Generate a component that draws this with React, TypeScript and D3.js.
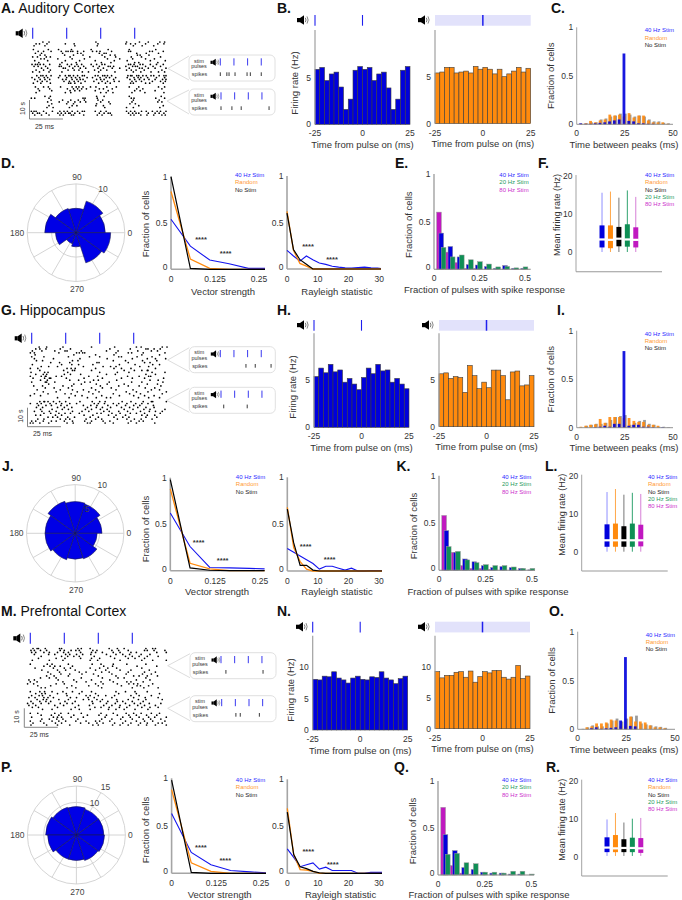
import React from 'react';
import * as d3 from 'd3';

const FONT = '"Liberation Sans", Arial, sans-serif';
const BLUE = '#0000dc';
const ORANGE = '#ff8a0d';
const GREEN = '#0f8f55';
const MAGENTA = '#c018c0';

const pulses = [0, 25, 50, 75];

// raster rows, top to bottom, spike times in ms
const rasterA = [
  [7.5, 12, 46.5, 69, 78.5, 85, 93.5, 97],
  [2.5, 5, 10.5, 24, 30.5, 48, 68.5, 72, 75.5, 83, 92, 96.5],
  [1, 9, 31, 47.5, 74, 80.5, 89],
  [],
  [0.5, 11.5, 19, 28.5, 43, 55.5, 71, 90.5],
  [4, 8, 13.5, 21, 24.5, 26, 28, 29.5, 33, 37.5, 44, 47, 49.5, 58, 70.5, 72, 86, 88, 96],
  [2, 6.5, 22, 33, 35.5, 49, 52.5, 54, 76.5, 83.5, 92.5],
  [5.5, 9, 23.5, 30, 37, 51, 57, 60.5, 77, 79, 85.5],
  [0, 3.5, 10, 13, 27.5, 42, 53, 61, 72.5, 80, 94],
  [6, 8.5, 18.5, 29, 38, 55, 64, 73.5, 83, 89.5],
  [1.5, 11, 24, 34.5, 46, 60, 69.5, 86.5, 97.5],
  [4.5, 21.5, 32, 50.5, 57.5, 75, 78, 92],
  [-0.5, 2, 3.5, 5.5, 8, 12.5, 20, 25.5, 28.5, 32.5, 36, 43, 47, 51, 53, 70.5, 72, 74.5, 79, 81, 86.5, 91, 96],
  [1, 4, 9.5, 19.5, 21, 27, 31, 33.5, 37.5, 44.5, 49, 55.5, 57, 59.5, 68.5, 73.5, 75.5, 77, 83, 88.5, 94],
  [6.5, 11, 22.5, 24, 29.5, 35, 39, 48, 52, 58.5, 64, 71, 78.5, 80.5, 85, 90, 98],
  [2.5, 8, 13, 26, 30.5, 34, 45.5, 50, 54.5, 69, 72.5, 76, 82, 95],
  [0, 5, 12, 21.5, 36.5, 41, 48.5, 60.5, 74, 79.5, 87, 92.5, 97],
  [],
  [3, 6, 7.5, 10, 13.5, 20, 24, 26.5, 27.5, 30, 33, 36.5, 38, 46, 48, 51.5, 53, 55, 58, 70, 72, 73, 76.5, 78, 81, 83.5, 87, 89, 93, 96.5, 98],
  [-0.5, 4.5, 8.5, 11, 19, 25, 28.5, 31.5, 34.5, 40, 44, 49.5, 54, 56.5, 61, 69.5, 74.5, 77.5, 79.5, 84.5, 91, 97],
  [1.5, 5.5, 9, 12.5, 22, 24.5, 29, 32.5, 35, 37, 47, 50, 52.5, 59.5, 71.5, 75, 78.5, 82, 85.5, 90, 95.5, 98],
  [3.5, 7, 10.5, 23, 27, 30.5, 33.5, 38.5, 45, 51, 55, 60, 63.5, 73, 76, 80, 88, 94, 97.5],
  [0.5, 6, 13, 26.5, 28, 31, 35.5, 48.5, 53.5, 57, 72, 74, 83, 86, 96],
  [],
  [2, 8, 11.5, 20.5, 29, 32, 34, 37, 42.5, 46.5, 54.5, 61.5, 71, 78, 92.5, 97],
  [4, 12.5, 25.5, 30, 33, 36, 39.5, 49, 52, 58.5, 76.5, 81, 95],
  [5, 14, 27.5, 31, 34.5, 46, 55.5, 75, 79, 90],
  [2.5, 24, 28, 50, 54, 59, 73, 82.5, 96.5],
  [],
  [9, 13, 47, 52.5, 71, 94.5],
  [-1, 1.5, 12, 37, 38.5, 47.5, 72.5, 74.5, 90.5, 97],
  [13.5, 22, 28, 33.5, 38, 48, 51.5, 74, 93],
  [11, 19.5, 26, 31, 35, 39, 50, 56, 73, 92, 95],
  [14, 25, 30, 47, 57, 71.5, 75.5],
  [12, 29, 32.5, 46.5, 52, 78, 96],
  [10.5, 15, 27, 53, 69, 74, 93.5],
  [],
  [-1, 1, 2.5, 8, 14.5, 20, 23, 25.5, 29, 33, 36.5, 38, 46, 50, 54, 69, 72, 75, 80, 83.5, 88, 91.5, 94, 98],
  [0, 3.5, 5, 10, 18.5, 21, 24, 26.5, 27.5, 31, 34.5, 49, 52.5, 55.5, 57, 70.5, 73.5, 76, 78, 85, 90, 93, 96.5],
  [1.5, 6.5, 12, 20, 22.5, 28.5, 30, 37.5, 47.5, 51, 58, 72, 74.5, 79.5, 84, 89, 95, 97.5],
];

const rasterG = [
  [5.5, 11, 23, 44, 61, 77, 80.5, 96, 99.5],
  [3, 6, 10.5, 21, 28.5, 57.5, 72.5, 84, 85.5, 90, 94.5],
  [0.5, 7.5, 17, 24.5, 26, 36.5, 55, 63.5, 78, 88, 92.5],
  [-1, 2, 20, 33, 35, 37.5, 39, 62, 71, 73.5, 82, 98],
  [2.5, 31, 47, 60.5, 81, 94],
  [0, 9, 27, 42.5, 50, 64, 66, 77.5, 88.5],
  [2, 16, 35.5, 55.5, 74, 85, 91, 98.5],
  [3.5, 8, 30, 34, 60, 69, 81.5, 92],
  [14, 20.5, 28, 48, 49.5, 71, 83, 87],
  [0.5, 22, 29.5, 34.5, 45, 64.5, 76, 89, 94],
  [7, 12.5, 19, 38, 52.5, 58, 62, 79.5, 86],
  [-1, 4.5, 26, 29, 32, 47, 60.5, 66, 73, 91],
  [6, 23.5, 30, 31.5, 44, 68, 75.5, 81, 85, 85.5],
  [-0.5, 9.5, 12, 26.5, 50, 63, 71.5, 88.5, 98],
  [3, 8.5, 11, 24, 28.5, 36, 55, 61.5, 84, 91],
  [-1, 7, 10, 10.5, 18, 22, 42, 48.5, 70.5, 79, 86, 87.5],
  [1, 9.5, 13, 14, 25.5, 38.5, 52, 66, 74, 83, 97],
  [6.5, 11.5, 28, 34.5, 45.5, 49, 62.5, 87, 93],
  [0, 10, 11, 17, 39, 43, 57, 73.5, 81, 96.5],
  [12.5, 31, 36.5, 47.5, 55.5, 68, 85, 92.5],
  [1.5, 8, 23, 29.5, 50.5, 64, 71, 79, 95],
  [10, 16.5, 27, 44, 52, 58.5, 83.5, 90.5],
  [4, 21, 30, 38, 47, 62, 74.5, 88, 94],
  [8.5, 18, 33.5, 42, 49.5, 69.5, 77, 85.5, 99],
  [2, 12, 24.5, 29, 45, 60, 72, 80, 96],
  [-1, 6.5, 32, 37, 51.5, 64.5, 75, 83, 90],
  [19, 27.5, 41, 47.5, 55, 58, 78.5, 86, 94],
  [],
  [6, 9, 9.5, 12, 16, 20.5, 25, 35.5, 44.5, 50, 54, 66.5, 73, 82, 88, 89, 99],
  [-1, 4, 7, 13.5, 18, 22, 28, 33, 46, 49, 53.5, 60, 64, 70, 76.5, 81, 85.5],
  [5, 10.5, 14.5, 21.5, 26, 38, 43.5, 48, 56, 62.5, 69, 75, 79.5, 89.5],
  [3.5, 8, 19, 24, 29.5, 41, 47.5, 52, 58, 66, 72, 78, 84, 90],
  [6.5, 15, 22.5, 27, 39.5, 44, 50.5, 55.5, 68, 74.5, 82.5, 87, 98],
  [2, 7.5, 13, 18, 30, 37, 42, 53, 57, 64, 70.5, 80, 86.5, 91, 96],
  [9, 14, 20, 24.5, 28.5, 35, 48, 51, 59, 65, 72.5, 77, 83, 94.5],
  [3, 6.5, 17.5, 22, 38.5, 45, 56.5, 62, 69, 81, 85, 90.5],
  [12, 15.5, 19, 26.5, 31.5, 43, 49, 60.5, 67, 71.5, 84, 92],
  [4.5, 9, 21, 25, 28, 40, 47, 51.5, 63, 70, 75.5, 80.5, 88.5],
  [0, 3, 8.5, 14.5, 18, 24, 30, 39, 44, 52.5, 57.5, 73, 79, 82],
  [-1, 1, 6, 12.5, 26, 30.5, 41, 43, 54, 60, 71, 77, 90.5],
];

const rasterM = [
  [2, 5, 6, 11, 21.5, 23, 35, 37.5, 44, 58, 64, 69, 85, 90, 92],
  [0.5, 3, 7.5, 12, 22, 25, 30, 33.5, 36, 46, 49, 60, 65, 72, 84, 86, 91, 99],
  [1, 4, 10, 14, 20, 24.5, 28, 37, 45, 48, 53, 61, 66, 74, 78, 93, 100],
  [3, 13.5, 18, 26, 29, 34, 38.5, 44.5, 56, 63, 68, 73, 81.5, 88],
  [8, 23, 27.5, 32, 36, 47, 59, 70, 75, 80, 86, 94],
  [6, 19, 25.5, 37, 45, 51, 62, 72, 77, 84],
  [1.5, 14, 24, 44, 49.5, 66, 82, 90, 100],
  [],
  [0, 12.5, 16, 28, 45.5, 52, 61, 71, 85],
  [10, 14.5, 18, 22, 31, 54, 60.5, 78.5, 93],
  [3.5, 17, 25, 29.5, 44, 51, 57, 63.5, 82],
  [8.5, 20, 26, 33, 48, 55.5, 66, 74, 87.5],
  [13, 21.5, 36, 41, 52.5, 58, 72, 84, 92],
  [15, 22.5, 29, 38, 46.5, 60, 70.5, 82.5, 89],
  [12, 17.5, 28, 50, 63, 76, 80, 86, 93.5],
  [7.5, 14, 19, 37.5, 53, 64.5, 69, 85],
  [-1, 3, 20.5, 32, 45, 58.5, 78, 88],
  [0, 5, 24, 34, 41, 52, 61, 71, 74, 83],
  [-2, 2.5, 19, 25, 48, 53.5, 64, 72.5, 76, 79, 90],
  [5.5, 15, 30.5, 43, 50, 67, 78.5, 81, 87],
  [8, 11, 27, 33.5, 52.5, 75, 83.5, 94],
  [],
  [0, 7, 10.5, 16, 24, 31, 38, 45, 63, 70, 77, 86],
  [4, 8.5, 11, 20, 26.5, 36, 48, 65, 78, 95],
  [1, 6.5, 9, 14.5, 27, 41, 44, 50, 55.5, 62, 74, 80, 89],
  [-1, 3.5, 10, 13, 17, 29.5, 34, 42.5, 47, 60, 76, 84.5, 94],
  [5, 9.5, 12, 21, 28, 39, 43, 49, 53, 63.5, 72, 79.5, 85, 97],
  [0.5, 7, 11.5, 15, 25.5, 33, 45.5, 51.5, 57, 64, 68, 75, 83],
  [-2, 2, 8, 13.5, 22, 27, 31, 46, 56, 62.5, 70, 76.5, 81, 87.5, 96],
  [-1, 4, 18, 24.5, 35.5, 43.5, 54, 60, 66, 73, 79, 84, 92],
  [1.5, 6, 20, 33, 47.5, 52, 58, 65.5, 71, 82, 88, 94],
  [9, 16, 30, 36, 44, 57.5, 63, 69, 77, 86.5],
  [],
  [0, 5.5, 18, 22.5, 28, 37.5, 52, 61, 70.5, 76, 81.5, 89, 95],
  [8, 15.5, 21, 32, 42, 50.5, 56, 64, 72.5, 78, 85.5, 93],
  [1, 17, 20, 23, 30, 39, 55, 68, 73.5, 80, 87, 91.5, 100],
  [8.5, 14, 19.5, 24, 35, 52.5, 60, 66.5, 75, 83, 88.5, 96],
  [0, 7.5, 16, 21, 26, 33.5, 41, 48, 51, 58.5, 70, 78, 84, 90, 99],
  [2, 10, 18.5, 23, 37, 43, 49, 53.5, 62, 68, 74, 81, 86, 94, 97],
  [0.5, 12, 20, 29, 46, 50, 60.5, 66, 72, 79.5, 85.5, 92, 100],
];

const insetA1 = [0, 12, 16, 27, 49, 55, 75];
const insetA2 = [0, 20, 37, 88];
const insetG1 = [47, 64, 93];
const insetG2 = [5, 48];
const insetM1 = [9, 77];
const insetM2 = [26, 34, 69];

// firing rate, 20 bins of 2.5 ms
const psthA = [5.9, 6.1, 4.7, 5.4, 5.6, 4, 1.6, 2.7, 5.8, 6.2, 5.9, 6.1, 4.7, 5.4, 5.6, 3.9, 1.6, 2.7, 5.8, 6.2];
const psthARandom = [5.4, 5.5, 6, 6, 5.4, 5.5, 5.6, 5.4, 6.1, 5.8, 6, 5.8, 5.3, 5.8, 5, 5.3, 5.6, 6, 5.5, 5.9];
const psthG = [5.4, 6.3, 5.8, 6.7, 5.9, 6.1, 4.8, 5.2, 4.6, 4, 5.3, 6.3, 5.7, 6.7, 6, 6.1, 4.8, 5.2, 4.6, 4.1];
const psthGRandom = [5.7, 5.8, 5.2, 5.4, 5.3, 3.7, 6.6, 5.5, 4.1, 4.8, 4.2, 6.1, 6.1, 5.5, 2.9, 5.9, 6, 4.4, 4.5, 5.5];
const psthM = [8.1, 8, 8.6, 8.5, 9.3, 8.3, 8, 7.5, 8.3, 8.6, 8.1, 8, 8.5, 8.4, 9.3, 8.3, 8, 7.4, 8.2, 8.6];
const psthMRandom = [9.2, 8.2, 8.6, 8.6, 9.1, 9.2, 8.3, 9.3, 7.5, 8.4, 9.2, 9, 9.4, 9.4, 8.3, 8, 8.3, 10.2, 8.1, 8.5];

// time between peaks, bins centred on 2.5, 5 ... 50 ms
const peakCenters = [2.5, 5, 7.5, 10, 12.5, 15, 17.5, 20, 22.5, 25, 27.5, 30, 32.5, 35, 37.5, 40, 42.5, 45, 47.5, 50];
const peakABlue = [0.01, 0.005, 0.005, 0.01, 0.015, 0.02, 0.03, 0.04, 0.05, 0.73, 0.035, 0.03, 0.01, 0.01, 0.005, 0.005, 0, 0, 0, 0];
const peakARandom = [0.005, 0.01, 0.035, 0.02, 0.04, 0.05, 0.1, 0.09, 0.1, 0.08, 0.115, 0.07, 0.09, 0.09, 0.04, 0.02, 0.02, 0.02, 0.005, 0];
const peakANone = [0.005, 0.01, 0.02, 0.02, 0.05, 0.06, 0.08, 0.09, 0.11, 0.11, 0.1, 0.08, 0.09, 0.08, 0.05, 0.03, 0.03, 0.015, 0.01, 0];
const peakIBlue = [0, 0, 0, 0.005, 0.01, 0.02, 0.01, 0.04, 0.04, 0.79, 0.02, 0.03, 0.03, 0.01, 0.01, 0.005, 0, 0.005, 0, 0];
const peakIRandom = [0.01, 0.02, 0.03, 0.035, 0.09, 0.05, 0.11, 0.11, 0.11, 0.1, 0.1, 0.07, 0.06, 0.06, 0.03, 0.03, 0.02, 0, 0, 0];
const peakINone = [0, 0.02, 0.03, 0.04, 0.04, 0.05, 0.08, 0.11, 0.12, 0.13, 0.03, 0.05, 0.07, 0.08, 0.04, 0.03, 0.01, 0.01, 0.005, 0];
const peakOBlue = [0, 0, 0.01, 0.02, 0.005, 0.01, 0.015, 0.02, 0.09, 0.74, 0.035, 0.03, 0, 0, 0, 0, 0, 0, 0, 0];
const peakORandom = [0, 0.02, 0.03, 0.06, 0.06, 0.07, 0.1, 0.09, 0.03, 0.03, 0.13, 0.08, 0.08, 0.07, 0.04, 0.02, 0.02, 0.01, 0, 0];
const peakONone = [0.005, 0.02, 0.04, 0.03, 0.03, 0.06, 0.09, 0.11, 0.08, 0.11, 0.13, 0.14, 0.06, 0.05, 0.04, 0.03, 0.025, 0.015, 0, 0];

// rose plots, 10 sectors of 36 deg starting at 0
const roseD = [6, 6.8, 5, 5.2, 6.4, 4.2, 2.4, 2.9, 6.5, 7.1];
const roseJ = [5.5, 6.3, 6.5, 6.9, 6.2, 6.2, 5.7, 5.3, 5.5, 4.5];
const roseP = [8.4, 8.3, 8.7, 8.9, 9.4, 8.8, 7.8, 7.8, 8.2, 8.6];

// vector strength curves
const vectorBins = [0, 0.055, 0.11, 0.165, 0.22, 0.27];
const vectorDBlue = [0.54, 0.25, 0.1, 0.06, 0.01, 0.01];
const vectorDRandom = [0.84, 0.11, 0.01, 0, 0, 0];
const vectorDNone = [1, 0.01, 0, 0, 0, 0];
const vectorJBlue = [0.62, 0.26, 0.035, 0.03, 0.025, 0.02];
const vectorJRandom = [0.88, 0.08, 0.02, 0, 0, 0];
const vectorJNone = [0.98, 0.03, 0.005, 0, 0, 0];
const vectorPBlue = [0.63, 0.22, 0.09, 0.03, 0.015, 0.005];
const vectorPRandom = [0.88, 0.11, 0.02, 0, 0, 0];
const vectorPNone = [0.98, 0.01, 0, 0, 0, 0];

// Rayleigh statistic curves
const rayleighBins = [0, 2.1, 4.2, 6.3, 8.4, 10.5, 12.6, 14.7, 16.8, 18.9, 21, 23.1, 25.2, 27.3, 29.4, 31];
const rayDBlue = [0.2, 0.14, 0.085, 0.14, 0.1, 0.065, 0.05, 0.03, 0.02, 0.012, 0.01, 0.015, 0.02, 0.012, 0.01, 0.005];
const rayDRandom = [0.62, 0.2, 0.06, 0.03, 0, 0, 0, 0, 0, 0, 0, 0, 0, 0, 0, 0];
const rayDNone = [0.6, 0.21, 0.1, 0.05, 0, 0, 0, 0, 0, 0, 0, 0, 0, 0, 0, 0];
const rayJBlue = [0.24, 0.2, 0.16, 0.12, 0.08, 0.02, 0.05, 0.05, 0.03, 0.01, 0.03, 0, 0, 0.005, 0.005, 0.005];
const rayJRandom = [0.68, 0.25, 0.1, 0.02, 0, 0, 0, 0, 0, 0, 0, 0, 0, 0, 0, 0];
const rayJNone = [0.66, 0.3, 0.06, 0.06, 0.01, 0, 0, 0, 0, 0, 0, 0, 0, 0, 0, 0];
const rayPBlue = [0.26, 0.17, 0.07, 0.09, 0.11, 0.045, 0.065, 0.03, 0.03, 0.03, 0.03, 0, 0, 0.01, 0.01, 0.01];
const rayPRandom = [0.69, 0.2, 0.04, 0.035, 0.02, 0, 0, 0, 0, 0, 0, 0, 0, 0, 0, 0];
const rayPNone = [0.65, 0.2, 0.07, 0.05, 0.02, 0.005, 0, 0, 0, 0, 0, 0, 0, 0, 0, 0];

// pulses with spike response, 10 bins of 0.05
const responseBins = [0.04, 0.09, 0.14, 0.19, 0.24, 0.29, 0.34, 0.39, 0.44, 0.49];
const respE80 = [0.6, 0.18, 0.07, 0.01, 0.01, 0, 0, 0, 0, 0];
const respE40 = [0.38, 0.24, 0.13, 0.05, 0.045, 0.03, 0.01, 0.04, 0.01, 0.01];
const respE20 = [0.23, 0.13, 0.15, 0.1, 0.08, 0.055, 0.025, 0.03, 0.015, 0.025];
const respK80 = [0.58, 0.19, 0.05, 0.02, 0.02, 0.01, 0, 0, 0, 0];
const respK40 = [0.42, 0.19, 0.12, 0.09, 0.05, 0.03, 0.04, 0.03, 0.02, 0.005];
const respK20 = [0.25, 0.2, 0.11, 0.08, 0.06, 0.05, 0.05, 0.035, 0.02, 0.02];
const respQ80 = [0.72, 0.1, 0.02, 0.01, 0, 0, 0, 0, 0, 0];
const respQ40 = [0.43, 0.26, 0.08, 0.06, 0.03, 0.02, 0.02, 0.01, 0.01, 0];
const respQ20 = [0.22, 0.23, 0.13, 0.12, 0.03, 0.03, 0.02, 0.04, 0.04, 0.01];

// mean firing rate boxes: hi, q3, median, q1, lo. 40 Hz, Random, No Stim, 20 Hz, 80 Hz
const boxF = [[15.6, 7, 3.3, 1.2, 0], [15.9, 7, 3.2, 1, 0], [14.3, 6.6, 3.5, 1.5, 0], [16.2, 7.3, 3.3, 1.4, 0], [14.5, 6.5, 3.2, 1.2, 0]];
const boxL = [[15.7, 7.2, 3, 1.3, 0], [16.5, 7.4, 3, 1.3, 0], [15, 6.7, 3, 1.3, 0], [15.5, 7.4, 3, 1.3, 0], [15.2, 7.1, 3, 1.4, 0]];
const boxR = [[9.8, 5.1, 2.4, 1.2, 0.2], [11.5, 5.7, 2.2, 1.2, 0.2], [9, 4.6, 2.3, 1.2, 0.2], [10, 5, 2.3, 1.2, 0.2], [10.2, 4.9, 2.2, 1, 0.2]];
const boxColors = [BLUE, ORANGE, '#000', GREEN, MAGENTA];
const whiskerColors = ['#8f8fff', '#ffa84a', '#777', '#2fa36f', '#d77fd7'];

const legendPeak = ['40 Hz Stim', 'Random', 'No Stim'];
const legendPeakColors = ['#2a2aff', '#ff9a33', '#222'];
const legendResp = ['40 Hz Stim', '20 Hz Stim', '80 Hz Stim'];
const legendRespColors = ['#2a2aff', '#1f9a60', '#cc2fcc'];
const legendBox = ['40 Hz Stim', 'Random', 'No Stim', '20 Hz Stim', '80 Hz Stim'];
const legendBoxColors = ['#2a2aff', '#ff9a33', '#222', '#1f9a60', '#cc2fcc'];

const TXT = '#333';
const LABEL_SIZE = 9.5;

const Speaker = ({ x, y, s = 1 }: { x: number; y: number; s?: number }) => (
  <g transform={`translate(${x},${y}) scale(${s})`}>
    <rect x={0} y={3} width={3} height={4.2} fill="#000" />
    <polygon points="3,3 7,0.2 7,9.8 3,7.2" fill="#000" />
    <path d="M8.3,2.8 Q9.7,5 8.3,7.2" stroke="#777" fill="none" strokeWidth={1} />
    <path d="M10,1.4 Q12.3,5 10,8.6" stroke="#888" fill="none" strokeWidth={1} />
  </g>
);

const Label = ({ x, y, t, name }: { x: number; y: number; t: string; name?: string }) => (
  <text x={x} y={y} fontSize={14} fill="#111">
    <tspan fontWeight="bold">{t}</tspan>
    {name ? <tspan> {name}</tspan> : null}
  </text>
);

const Legend = ({ x, y, items, colors }: { x: number; y: number; items: string[]; colors: string[] }) => (
  <g fontSize={6}>
    {items.map((d, i) => (
      <text key={d} x={x} y={y + i * 7.25 + 2} fill={colors[i]}>
        {d}
      </text>
    ))}
  </g>
);

const YLabel = ({ x, y, t, size = LABEL_SIZE }: { x: number; y: number; t: string; size?: number }) => (
  <text transform={`translate(${x},${y}) rotate(-90)`} textAnchor="middle" fontSize={size} fill={TXT}>
    {t}
  </text>
);

const Raster = ({ rows, x0, top, bottom, pulseTop, bar }: any) => {
  const x = d3.scaleLinear().domain([0, 100]).range([x0, x0 + 136]);
  const y = d3.scaleLinear().domain([0, 39]).range([top, bottom]);
  return (
    <g>
      {pulses.map((p) => (
        <line key={p} x1={x(p)} x2={x(p)} y1={pulseTop} y2={pulseTop + 11} stroke="#2222ee" strokeWidth={1.1} />
      ))}
      <Speaker x={x0 - 17} y={pulseTop + 0.5} />
      {rows.map((row: number[], r: number) =>
        row.map((t, i) => <circle key={`${r}-${i}`} cx={x(t)} cy={y(r)} r={0.85} fill="#000" />)
      )}
      <path d={`M${bar.x},${bar.y} V${bar.y + 19} H${bar.x + 33.5}`} fill="none" stroke="#777" strokeWidth={0.9} />
      <text transform={`translate(${bar.x - 5},${bar.y + 8.5}) rotate(-90)`} textAnchor="middle" fontSize={7} fill={TXT}>
        10 s
      </text>
      <text x={bar.x + 15} y={bar.y + 28.5} textAnchor="middle" fontSize={7} fill={TXT}>
        25 ms
      </text>
    </g>
  );
};

const Inset = ({ x, y, apex, x0, spikes }: any) => {
  const sx = d3.scaleLinear().domain([0, 25]).range([x0, x0 + 13.65]);
  return (
    <g>
      <path d={`M${x},${y + 1} L${apex[0]},${apex[1]} L${x},${y + 25}`} fill="none" stroke="#d8d8d8" strokeWidth={0.9} />
      <rect x={x} y={y} width={86} height={26} rx={5} fill="#fff" stroke="#dcdcdc" strokeWidth={0.9} />
      <g fontSize={5.4} fill={TXT} textAnchor="middle">
        <text x={x + 10} y={y + 7.5}>stim</text>
        <text x={x + 10} y={y + 13}>pulses</text>
        <text x={x + 10.5} y={y + 21}>spikes</text>
      </g>
      <Speaker x={x + 21.5} y={y + 3.5} s={0.75} />
      {pulses.map((p) => (
        <line key={p} x1={sx(p)} x2={sx(p)} y1={y + 3.3} y2={y + 10.5} stroke="#2222ee" strokeWidth={0.9} />
      ))}
      {spikes.map((t: number) => (
        <line key={t} x1={sx(t)} x2={sx(t)} y1={y + 17.3} y2={y + 21} stroke="#222" strokeWidth={0.9} />
      ))}
    </g>
  );
};

const psthTicks = [-25, 0, 25];

// one PSTH panel with its stimulus strip above
const Psth = ({ left, right, base, five, top, values, color, yTicks, stripY, band, tick, speakerX }: any) => {
  const x = d3.scaleLinear().domain([-25, 25]).range([left, right]);
  const y = d3.scaleLinear().domain([0, 5]).range([base, five]);
  const step = (right - left) / values.length;
  return (
    <g>
      <Speaker x={speakerX} y={stripY} />
      {band ? <rect x={left} y={stripY} width={right - left} height={10.7} fill="#e2e2fb" /> : null}
      {tick.map((t: number) => (
        <line key={t} x1={x(t)} x2={x(t)} y1={stripY} y2={stripY + 10.7} stroke="#1f1fee" strokeWidth={band ? 1.5 : 1.1} />
      ))}
      {values.map((v: number, i: number) => (
        <rect key={i} x={left + i * step} y={y(v)} width={step} height={base - y(v)} fill={color} stroke="#3d3d3d" strokeWidth={0.6} />
      ))}
      <line x1={left} x2={left} y1={top} y2={base} stroke="#a0a0a0" strokeWidth={1.2} />
      {yTicks.map((t: number) => (
        <text key={t} x={left - 4} y={y(t) + 3} textAnchor="end" fontSize={8.5} fill={TXT}>
          {t}
        </text>
      ))}
      {psthTicks.map((t) => (
        <text key={t} x={x(t)} y={base + 12} textAnchor="middle" fontSize={8.5} fill={TXT}>
          {t}
        </text>
      ))}
      <text x={(left + right) / 2} y={base + 23.5} textAnchor="middle" fontSize={LABEL_SIZE} fill={TXT}>
        Time from pulse on (ms)
      </text>
    </g>
  );
};

const PeakHist = ({ left, right, base, one, blue, random, none }: any) => {
  const x = d3.scaleLinear().domain([0, 50]).range([left, right]);
  const y = d3.scaleLinear().domain([0, 1]).range([base, one]);
  const series = [
    { v: none, c: '#7a7a7a', o: 0.75, dx: 0.4 },
    { v: random, c: ORANGE, o: 0.9, dx: -0.6 },
    { v: blue, c: BLUE, o: 0.9, dx: -0.9 },
  ];
  return (
    <g>
      {series.map((s, j) =>
        s.v.map((d: number, i: number) => (
          <rect key={`${j}-${i}`} x={x(peakCenters[i]) - 1.4 + s.dx} y={y(d)} width={2.8} height={base - y(d)} fill={s.c} opacity={s.o} />
        ))
      )}
      <line x1={left} x2={left} y1={one} y2={base} stroke="#999" strokeWidth={0.9} />
      <line x1={left} x2={right} y1={base} y2={base} stroke="#888" strokeWidth={0.9} />
      {[0, 0.5, 1].map((t) => (
        <text key={t} x={left - 3.5} y={y(t) + 3} textAnchor="end" fontSize={8.5} fill={TXT}>
          {t}
        </text>
      ))}
      {[0, 25, 50].map((t) => (
        <text key={t} x={x(t)} y={base + 12} textAnchor="middle" fontSize={8.5} fill={TXT}>
          {t}
        </text>
      ))}
      <text x={Math.min((left + right) / 2, 624)} y={base + 23.5} textAnchor="middle" fontSize={LABEL_SIZE} fill={TXT}>
        Time between peaks (ms)
      </text>
      <YLabel x={left - 23} y={(base + one) / 2} t="Fraction of cells" />
      <Legend x={left + 68} y={one + 3} items={legendPeak} colors={legendPeakColors} />
    </g>
  );
};

const Rose = ({ cx, cy, R, rMax, rings, values, ringLabels }: any) => {
  const r = d3.scaleLinear().domain([0, rMax]).range([0, R]);
  const arc = d3.arc();
  const spokes = d3.range(0, 360, 30);
  return (
    <g transform={`translate(${cx},${cy})`}>
      {spokes.map((a) => (
        <line key={a} x1={0} y1={0} x2={R * Math.cos((a * Math.PI) / 180)} y2={-R * Math.sin((a * Math.PI) / 180)} stroke="#cfcfcf" strokeWidth={0.9} />
      ))}
      {rings.map((v: number) => (
        <circle key={v} r={r(v)} fill="none" stroke="#cfcfcf" strokeWidth={0.9} />
      ))}
      {values.map((v: number, i: number) => {
        const a0 = ((90 - (i + 1) * 36) * Math.PI) / 180;
        const a1 = ((90 - i * 36) * Math.PI) / 180;
        return (
          <path
            key={i}
            d={arc({ innerRadius: 0, outerRadius: r(v), startAngle: a0, endAngle: a1 }) as string}
            fill="#0000e6"
            stroke="#1a1a50"
            strokeWidth={0.6}
          />
        );
      })}
      <g fontSize={8.5} fill="#444" textAnchor="middle">
        <text x={1} y={-R - 4}>90</text>
        <text x={1} y={R + 11}>270</text>
        <text x={-R - 10} y={3}>180</text>
        <text x={R + 5} y={3}>0</text>
        {ringLabels.map((l: any) => (
          <text key={l[0]} x={l[1]} y={l[2]}>{l[0]}</text>
        ))}
      </g>
    </g>
  );
};

const CurvePanel = ({ left, right, scaleEnd, domainEnd, base, one, bins, blue, random, none, ticks, xlabel, labelX, labelY, stars, yLabel, legend }: any) => {
  const x = d3.scaleLinear().domain([0, domainEnd]).range([left, scaleEnd]);
  const y = d3.scaleLinear().domain([0, 1]).range([base, one]);
  const line = d3
    .line<number>()
    .x((_, i) => Math.min(x(bins[i]), right))
    .y((d) => y(d));
  return (
    <g>
      <line x1={left} x2={left} y1={one} y2={base} stroke="#a5a5a5" strokeWidth={1.6} />
      <line x1={left} x2={right} y1={base} y2={base} stroke="#a5a5a5" strokeWidth={1.6} />
      <path d={line(blue) as string} fill="none" stroke="#1414ee" strokeWidth={1.1} />
      <path d={line(random) as string} fill="none" stroke={ORANGE} strokeWidth={1.3} />
      <path d={line(none) as string} fill="none" stroke="#000" strokeWidth={1.2} />
      {[0, 0.5, 1].map((t) => (
        <text key={t} x={left - 3.5} y={y(t) + (t === 0 ? 1 : 3)} textAnchor="end" fontSize={8.5} fill={TXT}>
          {t}
        </text>
      ))}
      {ticks.map((t: number) => (
        <text key={t} x={x(t)} y={base + 13} textAnchor="middle" fontSize={8.5} fill={TXT}>
          {t}
        </text>
      ))}
      <text x={labelX} y={labelY} textAnchor="middle" fontSize={LABEL_SIZE} fill={TXT}>
        {xlabel}
      </text>
      {stars.map((s: number[], i: number) => (
        <text key={i} x={s[0]} y={s[1] + 3} textAnchor="middle" fontSize={7.5} fontWeight="bold" fill="#333">
          ****
        </text>
      ))}
      {yLabel ? <YLabel x={yLabel[0]} y={yLabel[1]} t="Fraction of cells" /> : null}
      {legend ? <Legend x={legend[0]} y={legend[1]} items={legendPeak} colors={legendPeakColors} /> : null}
    </g>
  );
};

const ResponseHist = ({ left, x50, right, base, one, v80, v40, v20, labelX, labelY, yLabelX, legend }: any) => {
  const x = d3.scaleLinear().domain([0, 0.5]).range([left, x50]);
  const y = d3.scaleLinear().domain([0, 1]).range([base, one]);
  const series = [
    { v: v80, c: MAGENTA, dx: -2.3 },
    { v: v40, c: BLUE, dx: 0 },
    { v: v20, c: GREEN, dx: 2.3 },
  ];
  return (
    <g>
      {series.map((s, j) =>
        s.v.map((d: number, i: number) =>
          d > 0 ? (
            <rect key={`${j}-${i}`} x={x(responseBins[i]) - 2.35 + s.dx} y={y(d)} width={4.7} height={base - y(d)} fill={s.c} stroke="#999" strokeWidth={0.5} />
          ) : null
        )
      )}
      <line x1={left} x2={left} y1={one} y2={base} stroke="#888" strokeWidth={1.1} />
      <line x1={left} x2={right} y1={base} y2={base} stroke="#888" strokeWidth={1.1} />
      {[0, 0.5, 1].map((t) => (
        <text key={t} x={left - 3.5} y={y(t) + (t === 0 ? 1 : 3)} textAnchor="end" fontSize={8.5} fill={TXT}>
          {t}
        </text>
      ))}
      {[0, 0.25, 0.5].map((t) => (
        <text key={t} x={x(t)} y={base + 12} textAnchor="middle" fontSize={8.5} fill={TXT}>
          {t}
        </text>
      ))}
      <text x={labelX} y={labelY} textAnchor="middle" fontSize={LABEL_SIZE} fill={TXT}>
        Fraction of pulses with spike response
      </text>
      <YLabel x={yLabelX} y={(base + one) / 2 + 3} t="Fraction of cells" />
      <Legend x={legend[0]} y={legend[1]} items={legendResp} colors={legendRespColors} />
    </g>
  );
};

const BoxPanel = ({ left, y20, y0, bottom, x0, data, yLabelX, legend }: any) => {
  const y = d3.scaleLinear().domain([0, 20]).range([y0, y20]);
  const x = d3.scaleBand<number>().domain([0, 1, 2, 3, 4]).range([x0 - 4.2, x0 + 4.2 + 8.45 * 4]);
  return (
    <g>
      <line x1={left} x2={left} y1={y20 - 1} y2={bottom} stroke="#999" strokeWidth={0.9} />
      <line x1={left} x2={left + 86} y1={bottom} y2={bottom} stroke="#999" strokeWidth={1.1} />
      {[0, 10, 20].map((t) => (
        <text key={t} x={left - 3.5} y={y(t) + 3} textAnchor="end" fontSize={8.5} fill={TXT}>
          {t}
        </text>
      ))}
      {data.map((d: number[], i: number) => {
        const cx = (x(i) as number) + x.bandwidth() / 2;
        return (
          <g key={i}>
            <line x1={cx} x2={cx} y1={y(d[0])} y2={y(d[4])} stroke={whiskerColors[i]} strokeWidth={1} />
            <rect x={cx - 2.5} y={y(d[1])} width={5} height={y(d[3]) - y(d[1])} fill={boxColors[i]} />
            <rect x={cx - 3} y={y(d[2]) - 1.1} width={6} height={2.2} fill="#fff" />
          </g>
        );
      })}
      <YLabel x={yLabelX} y={y(10) + 1} t="Mean firing rate (Hz)" size={9} />
      <Legend x={legend[0]} y={legend[1]} items={legendBox} colors={legendBoxColors} />
    </g>
  );
};

const App = () => (
  <svg
    width={682}
    height={900}
    viewBox="0 0 682 900"
    style={{ position: 'absolute', left: 0, top: 0, fontFamily: FONT, background: '#fff' }}
  >
    {/* first block */}
    <Label x={1} y={12.7} t="A." name="Auditory Cortex" />
    <Raster rows={rasterA} x0={32.7} top={42} bottom={115} pulseTop={27.7} bar={{ x: 29.5, y: 100 }} />
    <Inset x={189} y={55} apex={[168, 68.5]} x0={220.3} spikes={insetA1} />
    <Inset x={189} y={89} apex={[167, 101]} x0={221} spikes={insetA2} />
    <Label x={277} y={12.7} t="B." />
    <Psth left={315} right={410} base={124.3} five={77.7} top={30} values={psthA} color={BLUE} yTicks={[0, 5]} stripY={15} tick={[-25, 0]} speakerX={297} />
    <YLabel x={298} y={83} t="Firing rate (Hz)" />
    <Psth left={435} right={530.7} base={123.5} five={76.7} top={30} values={psthARandom} color={ORANGE} yTicks={[0, 5]} stripY={15} band tick={[0]} speakerX={418} />
    <Label x={551} y={12.7} t="C." />
    <PeakHist left={576.7} right={673} base={124.3} one={27.3} blue={peakABlue} random={peakARandom} none={peakANone} />

    <Label x={1} y={168} t="D." />
    <Rose cx={76} cy={232.7} R={48.8} rMax={10} rings={[5, 10]} values={roseD} ringLabels={[['10', 27, -41]]} />
    <CurvePanel left={171} right={265} scaleEnd={259} domainEnd={0.25} base={269.3} one={176.7} bins={vectorBins} blue={vectorDBlue} random={vectorDRandom} none={vectorDNone} ticks={[0, 0.125, 0.25]} xlabel="Vector strength" labelX={223} labelY={295} stars={[[201, 239], [225.7, 252.7]]} yLabel={[149, 224]} legend={[235, 175]} />
    <CurvePanel left={287} right={381} scaleEnd={379.3} domainEnd={30} base={269} one={176} bins={rayleighBins} blue={rayDBlue} random={rayDRandom} none={rayDNone} ticks={[0, 10, 20, 30]} xlabel="Rayleigh statistic" labelX={337} labelY={295} stars={[[308, 246], [332, 259.3]]} />
    <Label x={395} y={168} t="E." />
    <ResponseHist left={434} x50={525} right={530.7} base={269.3} one={174} v80={respE80} v40={respE40} v20={respE20} labelX={484.5} labelY={293} yLabelX={412} legend={[499.3, 175]} />
    <Label x={538} y={168} t="F." />
    <BoxPanel left={576} y20={176} y0={252} bottom={271.7} x0={602} data={boxF} yLabelX={560} legend={[645, 175]} />

    {/* second block */}
    <Label x={1} y={315} t="G." name="Hippocampus" />
    <Raster rows={rasterG} x0={31.7} top={347} bottom={423} pulseTop={332.7} bar={{ x: 27.5, y: 407.7 }} />
    <Inset x={189.3} y={346.7} apex={[167.7, 360]} x0={220.3} spikes={insetG1} />
    <Inset x={189.3} y={387.3} apex={[166.7, 400.3]} x0={221} spikes={insetG2} />
    <Label x={277} y={315} t="H." />
    <Psth left={314} right={409} base={427.3} five={380.3} top={333.3} values={psthG} color={BLUE} yTicks={[0, 5]} stripY={320} tick={[-25, 0]} speakerX={297} />
    <YLabel x={296} y={387} t="Firing rate (Hz)" />
    <Psth left={439} right={534} base={426.7} five={380.3} top={333.3} values={psthGRandom} color={ORANGE} yTicks={[0, 5]} stripY={320} band tick={[0]} speakerX={422} />
    <Label x={557} y={315} t="I." />
    <PeakHist left={576.7} right={673} base={427.7} one={330.7} blue={peakIBlue} random={peakIRandom} none={peakINone} />

    <Label x={2} y={471} t="J." />
    <Rose cx={75.2} cy={533.3} R={48.7} rMax={10} rings={[5, 10]} values={roseJ} ringLabels={[['10', 27, -45], ['5', 12, -21]]} />
    <CurvePanel left={170.3} right={264.6} scaleEnd={260} domainEnd={0.25} base={570.7} one={477.7} bins={vectorBins} blue={vectorJBlue} random={vectorJRandom} none={vectorJNone} ticks={[0, 0.125, 0.25]} xlabel="Vector strength" labelX={217} labelY={595} stars={[[198.7, 542.3], [222.7, 560]]} yLabel={[149, 529]} legend={[235.8, 477]} />
    <CurvePanel left={287.3} right={382} scaleEnd={379} domainEnd={30} base={571} one={477.3} bins={rayleighBins} blue={rayJBlue} random={rayJRandom} none={rayJNone} ticks={[0, 10, 20, 30]} xlabel="Rayleigh statistic" labelX={337} labelY={595} stars={[[305.7, 546], [329.7, 559.3]]} />
    <Label x={396.5} y={471} t="K." />
    <ResponseHist left={439} x50={532} right={535} base={570.3} one={475.7} v80={respK80} v40={respK40} v20={respK20} labelX={488} labelY={595} yLabelX={417} legend={[502, 477]} />
    <Label x={545} y={471} t="L." />
    <BoxPanel left={581.7} y20={475.7} y0={551.7} bottom={571} x0={607} data={boxL} yLabelX={565} legend={[648, 477]} />

    {/* third block */}
    <Label x={1} y={616} t="M." name="Prefrontal Cortex" />
    <Raster rows={rasterM} x0={30.3} top={648.5} bottom={725} pulseTop={632.7} bar={{ x: 24.3, y: 708.3 }} />
    <Inset x={190} y={652.7} apex={[167.7, 665.7]} x0={221} spikes={insetM1} />
    <Inset x={190} y={695.7} apex={[167.7, 708.3]} x0={221.7} spikes={insetM2} />
    <Label x={277} y={616} t="N." />
    <Psth left={312.7} right={407.7} base={730} five={698.7} top={635.7} values={psthM} color={BLUE} yTicks={[0, 5, 10]} stripY={621.7} tick={[-25, 0]} speakerX={296} />
    <YLabel x={294} y={690} t="Firing rate (Hz)" />
    <Psth left={435} right={530} base={728.7} five={697.7} top={635.7} values={psthMRandom} color={ORANGE} yTicks={[0, 5, 10]} stripY={621.7} band tick={[0]} speakerX={418} />
    <Label x={549} y={616} t="O." />
    <PeakHist left={577.7} right={675} base={729.3} one={631.7} blue={peakOBlue} random={peakORandom} none={peakONone} />

    <Label x={1} y={772} t="P." />
    <Rose cx={76.4} cy={835} R={49} rMax={15} rings={[5, 10, 15]} values={roseP} ringLabels={[['15', 29, -45], ['10', 18, -29]]} />
    <CurvePanel left={171.6} right={266} scaleEnd={261} domainEnd={0.25} base={873.3} one={778.3} bins={vectorBins} blue={vectorPBlue} random={vectorPRandom} none={vectorPNone} ticks={[0, 0.125, 0.25]} xlabel="Vector strength" labelX={219.7} labelY={898} stars={[[200.9, 846.7], [225.3, 860]]} yLabel={[149, 830]} legend={[235.8, 780]} />
    <CurvePanel left={287.3} right={382} scaleEnd={379} domainEnd={30} base={873.3} one={779.3} bins={rayleighBins} blue={rayPBlue} random={rayPRandom} none={rayPNone} ticks={[0, 10, 20, 30]} xlabel="Rayleigh statistic" labelX={340.6} labelY={897.5} stars={[[308.3, 851], [332.8, 864.3]]} />
    <Label x={394} y={772} t="Q." />
    <ResponseHist left={438} x50={531.4} right={534} base={875} one={781} v80={respQ80} v40={respQ40} v20={respQ20} labelX={489} labelY={897.5} yLabelX={416} legend={[502, 780]} />
    <Label x={546} y={772} t="R." />
    <BoxPanel left={581.7} y20={780.7} y0={856.7} bottom={876} x0={607} data={boxR} yLabelX={565} legend={[648, 780]} />
  </svg>
);

export default App;
